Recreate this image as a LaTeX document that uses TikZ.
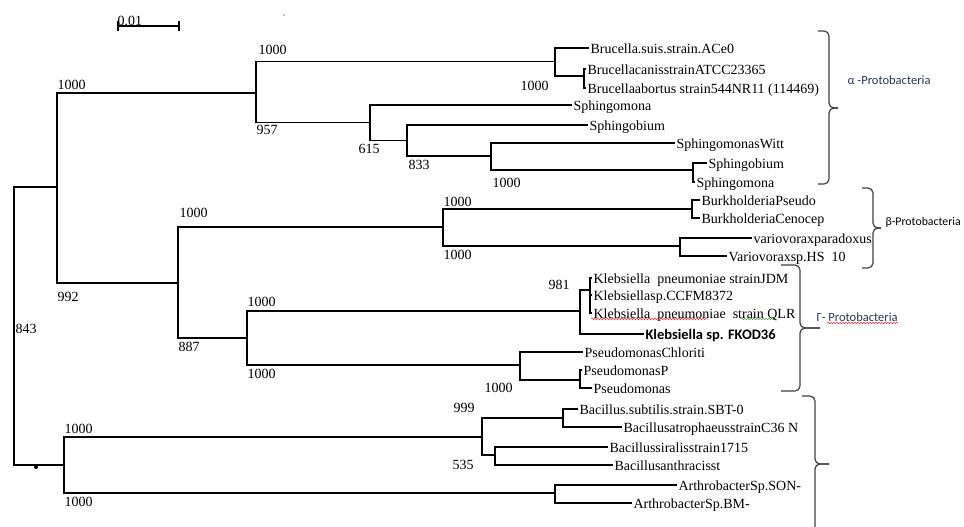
\documentclass[tikz,border=0pt]{standalone}
\usepackage{fontspec}
\setmainfont{Liberation Serif}
\newfontfamily\calib{Carlito}
\usetikzlibrary{decorations.pathmorphing}

\definecolor{navy}{RGB}{40,55,90}
\definecolor{wavered}{RGB}{225,45,45}
\definecolor{wavegreen}{RGB}{70,165,70}

\def\leaf#1#2#3{
	\node[leaf] (#1) at (#2) {#3};
}
\def\boot#1#2#3{
	\node[boot] (#1) at (#2) {#3};
}
% bracket: x, top, tip, bottom, hook, tip length
\def\bracket#1#2#3#4#5#6{
	\draw[brace] ({#1-#5},#2) -- (#1,#2) -- (#1,#3) -- ({#1+#6},#3);
	\draw[brace] ({#1+#6},#3) -- (#1,#3) -- (#1,#4) -- ({#1-#5},#4);
}

\begin{document}
\begin{tikzpicture}[x=1pt,y=-1pt,line width=1.1pt,
	leaf/.style={anchor=west,inner sep=1pt,text height=11pt,text depth=0pt,font=\fontsize{14}{16}\selectfont},
	boot/.style={anchor=west,inner sep=0pt,font=\fontsize{14}{16}\selectfont},
	brace/.style={black!75,line width=1.2pt,rounded corners=5pt},
	group/.style={anchor=west,inner sep=0pt,font=\calib\fontsize{12.5}{14}\selectfont},
	wave/.style={decorate,decoration={snake,amplitude=0.7pt,segment length=3pt},line width=0.5pt}]
\useasboundingbox (0,0) rectangle (964,527);

% scale bar
\draw (118,26) -- (179,26);
\draw (118,21) -- (118,31);
\draw (179,21) -- (179,31);
\node[boot] (scale) at (117,21) {0.01};
\fill (284,15) circle (0.7);

% inner nodes
\coordinate (root) at (14,326);
\coordinate (prot) at (57,187);
\coordinate (alf) at (256,93);
\coordinate (bru) at (555,61.5);
\coordinate (bru2) at (584,76);
\coordinate (sph) at (370,122.5);
\coordinate (sph2) at (407,140.5);
\coordinate (sph3) at (491,156);
\coordinate (sph4) at (693,170);
\coordinate (bg) at (178,283);
\coordinate (bet) at (443,227);
\coordinate (bur) at (692,209);
\coordinate (var) at (680,246);
\coordinate (gam) at (247,338);
\coordinate (kle) at (580,311);
\coordinate (kle2) at (590,290);
\coordinate (pse) at (520,365);
\coordinate (pse2) at (580,380);
\coordinate (bac) at (64,465);
\coordinate (bac1) at (482,437);
\coordinate (bac2) at (563,418);
\coordinate (bac3) at (495,455);
\coordinate (art) at (555,493);

% leaves
\leaf{bsuis}{589,48}{Brucella.suis.strain.ACe0}
\leaf{bcanis}{586,69}{BrucellacanisstrainATCC23365}
\leaf{babort}{586,88}{Brucellaabortus strain544NR11 (114469)}
\leaf{sphA}{572,105}{Sphingomona}
\leaf{sphB}{588,125}{Sphingobium}
\leaf{sphW}{675,143}{SphingomonasWitt}
\leaf{sphC}{707,163}{Sphingobium}
\leaf{sphD}{695,182}{Sphingomona}
\leaf{burP}{700,200}{BurkholderiaPseudo}
\leaf{burC}{700,218}{BurkholderiaCenocep}
\leaf{varP}{752,238}{variovoraxparadoxus}
\leaf{varH}{727,256}{Variovoraxsp.HS~ 10}
\leaf{kJDM}{592,278}{Klebsiella~ pneumoniae strainJDM}
\leaf{kCCF}{592,295}{Klebsiellasp.CCFM8372}
\leaf{kQLR}{592,313}{Klebsiella~ pneumoniae~ strain QLR}
\node[leaf,font=\calib\bfseries\fontsize{14.5}{16}\selectfont] (kFKO) at (644,334) {Klebsiella sp. FKOD36};
\leaf{psCh}{583,352}{PseudomonasChloriti}
\leaf{psP}{582,370}{PseudomonasP}
\leaf{psS}{592,388}{Pseudomonas}
\leaf{bSBT}{578,409}{Bacillus.subtilis.strain.SBT-0}
\leaf{bC36}{622,427}{BacillusatrophaeusstrainC36 N}
\leaf{b1715}{608,447}{Bacillussiralisstrain1715}
\leaf{bant}{613,465}{Bacillusanthracisst}
\leaf{aSON}{677,485}{ArthrobacterSp.SON-}
\leaf{aBM}{632,503}{ArthrobacterSp.BM-}

% branches
\foreach \p/\c in {root/prot,root/bac,prot/alf,prot/bg,alf/bru,alf/sph,
	bru/bsuis,bru/bru2,bru2/bcanis,bru2/babort,sph/sphA,sph/sph2,
	sph2/sphB,sph2/sph3,sph3/sphW,sph3/sph4,sph4/sphC,sph4/sphD,
	bg/bet,bg/gam,bet/bur,bet/var,bur/burP,bur/burC,var/varP,var/varH,
	gam/kle,gam/pse,kle/kle2,kle/kFKO,kle2/kJDM,kle2/kCCF,kle2/kQLR,
	pse/psCh,pse/pse2,pse2/psP,pse2/psS,
	bac/bac1,bac/art,bac1/bac2,bac1/bac3,bac2/bSBT,bac2/bC36,
	bac3/b1715,bac3/bant,art/aSON,art/aBM}{
	\draw (\p) |- (\c);
}
\fill (36,467) circle (2);

% bootstrap values
\boot{v1}{57,85}{1000}
\boot{v2}{57,297}{992}
\boot{v3}{258,50}{1000}
\boot{v4}{256,130}{957}
\boot{v5}{358,149}{615}
\boot{v6}{408,165}{833}
\boot{v7}{520,86}{1000}
\boot{v8}{492,183}{1000}
\boot{v9}{15,329}{843}
\boot{v10}{179,213}{1000}
\boot{v11}{178,347}{887}
\boot{v12}{443,202}{1000}
\boot{v13}{443,255}{1000}
\boot{v14}{247,302}{1000}
\boot{v15}{247,374}{1000}
\boot{v16}{548,285}{981}
\boot{v17}{484,388}{1000}
\boot{v18}{64,429}{1000}
\boot{v19}{64,502}{1000}
\boot{v20}{453,408}{999}
\boot{v21}{452,465}{535}

% groups
\bracket{829}{31}{108}{184}{11}{9}
\bracket{873}{188}{228}{268}{11}{8}
\bracket{800}{265}{328}{391}{19}{20}
\draw[brace] (802,396) -- (815,396) -- (815,464) -- (829,464);
\draw[brace] (829,464) -- (815,464) -- (815,527);
\node[group,text=navy] (alpha) at (847,80) {α -Protobacteria};
\node[group,font=\calib\fontsize{11.8}{14}\selectfont] (beta) at (885,222) {β-Protobacteria};
\node[group,text=navy] (gamma) at (816,317) {Γ- Protobacteria};

% spell marks
\draw[wave,wavered] (591,319) -- (708,319);
\draw[wave,wavegreen] (741,319) -- (775,319);
\draw[wave,wavered] (827,323) -- (898,323);
\end{tikzpicture}
\end{document}
